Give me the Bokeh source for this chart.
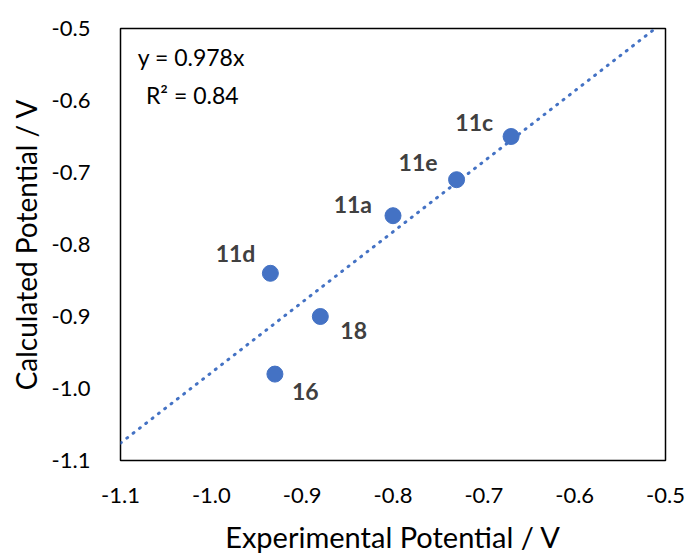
from bokeh.plotting import figure
from bokeh.models import ColumnDataSource, Range1d, FixedTicker, Label, CustomJSTickFormatter
from bokeh.embed import file_html
from bokeh.resources import INLINE
from bokeh.core.properties import value

# Data
names = ["11c", "11e", "11a", "11d", "18", "16"]
experimental = [-0.67, -0.73, -0.80, -0.935, -0.88, -0.93]
calculated = [-0.65, -0.71, -0.76, -0.84, -0.90, -0.98]
slope = 0.978
r2 = 0.84
ticks = [-1.1, -1.0, -0.9, -0.8, -0.7, -0.6, -0.5]

# label placement (screen offsets, styling only)
label_dx = {"11c": -18, "11e": -19, "11a": -21, "11d": -15, "18": 20, "16": 17}
label_dy = {"11c": -15, "11e": -17, "11a": -12, "11d": -20, "18": 14, "16": 17}
label_align = {"11c": "right", "11e": "right", "11a": "right", "11d": "right", "18": "left", "16": "left"}

FONT = "Lato"
BLUE = "#4472C4"

p = figure(width=690, height=556, output_backend="svg", toolbar_location=None,
           x_range=Range1d(-1.1, -0.5), y_range=Range1d(-1.1, -0.5),
           min_border_left=120, min_border_top=28, min_border_right=25, min_border_bottom=91)
p.background_fill_color = "white"
p.border_fill_color = "white"
p.outline_line_color = "black"
p.outline_line_width = 1.5
p.xgrid.visible = False
p.ygrid.visible = False

fmt = CustomJSTickFormatter(code="return tick.toFixed(1);")
for ax in (p.xaxis[0], p.yaxis[0]):
    ax.ticker = FixedTicker(ticks=ticks)
    ax.formatter = fmt
    ax.axis_line_color = None
    ax.major_tick_line_color = None
    ax.minor_tick_line_color = None
    ax.major_label_text_font = FONT
    ax.major_label_text_font_size = "22px"
    ax.major_label_text_color = "black"
    ax.axis_label_text_font = FONT
    ax.axis_label_text_font_style = "normal"
    ax.axis_label_text_color = "black"

p.xaxis.axis_label = "Experimental Potential / V"
p.yaxis.axis_label = "Calculated Potential / V"
p.xaxis.axis_label_text_font_size = "29px"
p.yaxis.axis_label_text_font_size = "28px"
p.xaxis.major_label_standoff = 21
p.yaxis.major_label_standoff = 24
p.xaxis.axis_label_standoff = 13
p.yaxis.axis_label_standoff = 6

# trendline from the fitted slope
tx = [-1.1, -0.5]
ty = [slope * v for v in tx]
p.line(tx, ty, line_color=BLUE, line_width=3, line_dash="1 7", line_cap="round")

src = ColumnDataSource(dict(
    x=experimental, y=calculated, name=names,
    dx=[label_dx[n] for n in names], dy=[label_dy[n] for n in names],
    align=[label_align[n] for n in names]))
p.scatter("x", "y", source=src, size=16, fill_color=BLUE, line_color=BLUE)
p.text("x", "y", text="name", source=src, x_offset="dx", y_offset="dy",
       text_align="align", text_baseline="middle",
       text_font=value(FONT), text_font_size="23px", text_font_style="bold",
       text_color="#404040")

p.add_layout(Label(x=-1.081, y=-0.540, text=f"y = {slope}x", text_font=FONT,
                   text_font_size="23px", text_baseline="middle", text_color="black"))
p.add_layout(Label(x=-1.072, y=-0.592, text=f"R² = {r2}", text_font=FONT,
                   text_font_size="23px", text_baseline="middle", text_color="black"))

open("out.html", "w").write(file_html(p, INLINE))
